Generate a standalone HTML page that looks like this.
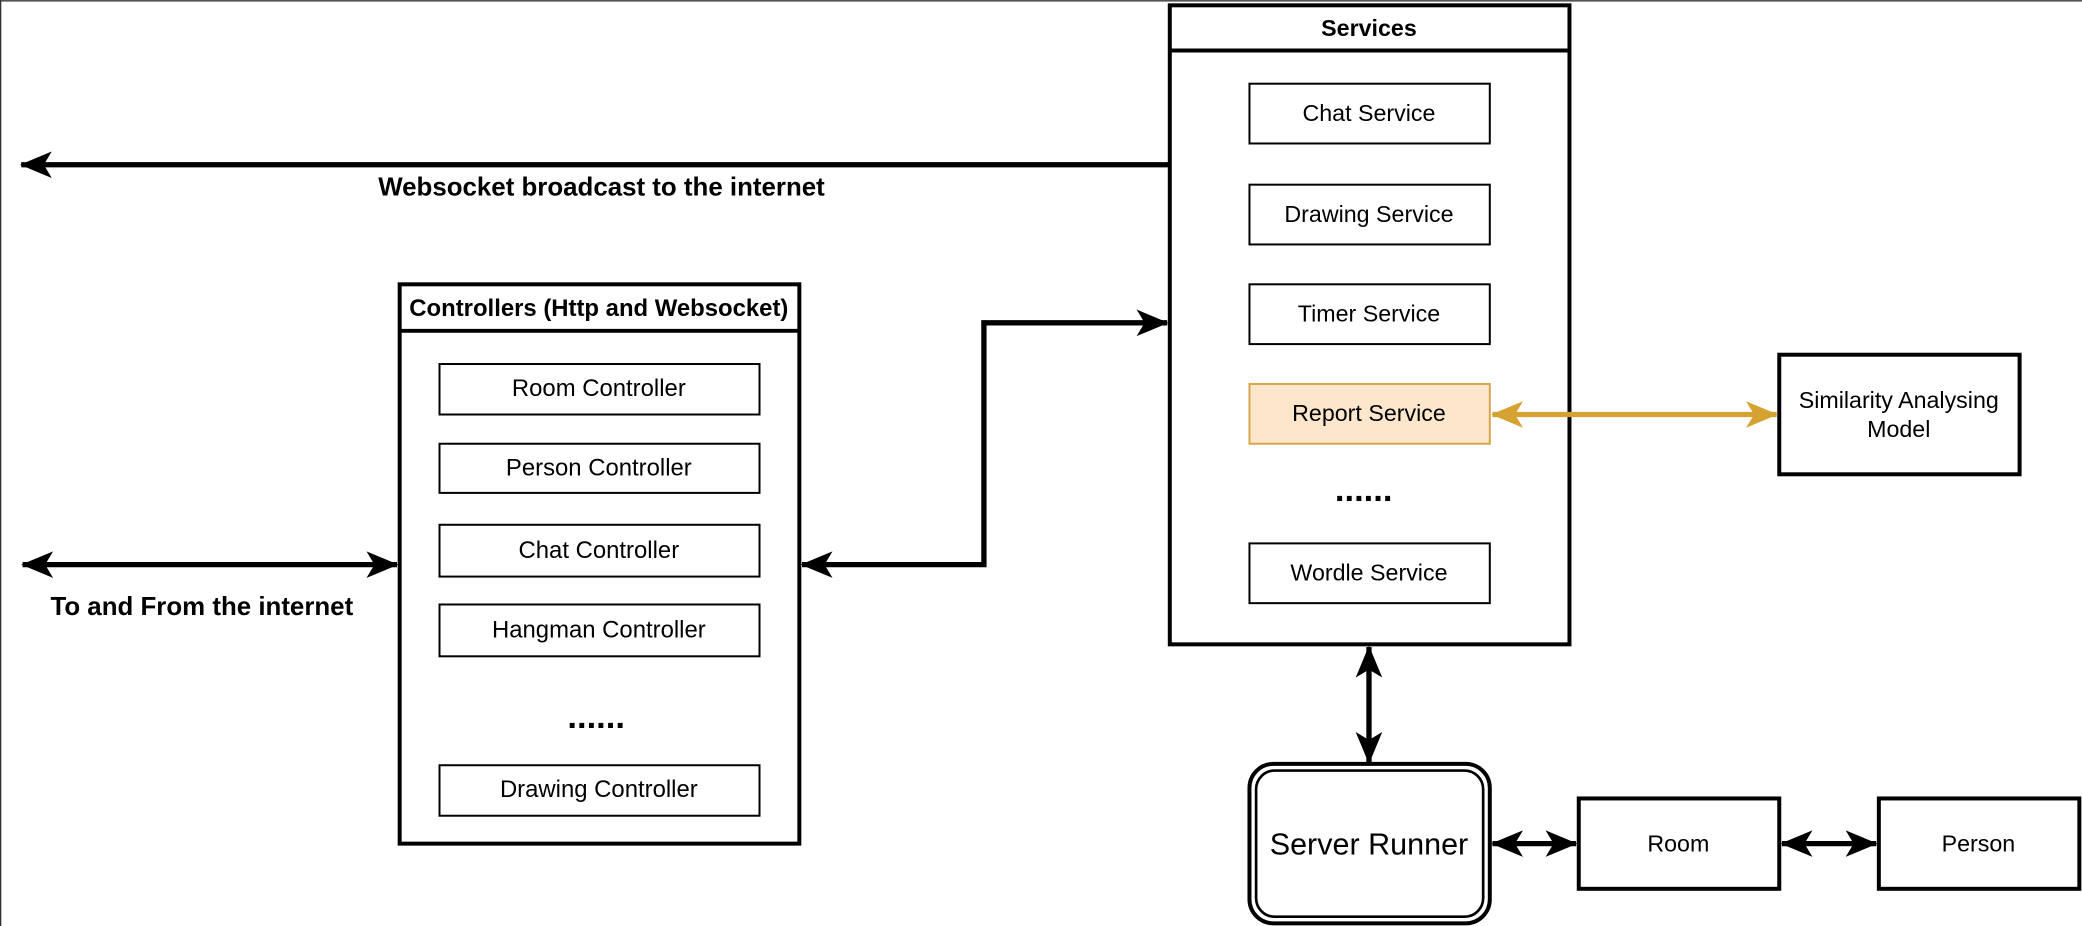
<!DOCTYPE html>
<html><head><meta charset="utf-8"><style>html,body{margin:0;padding:0;background:#fff}svg{display:block}</style></head>
<body>
<svg width="2082" height="926" viewBox="0 0 1568 697" preserveAspectRatio="none" xmlns="http://www.w3.org/2000/svg" font-family="Liberation Sans, Arial, sans-serif">
<defs>
<marker id="a" viewBox="0 0 24 20" refX="23" refY="10" markerWidth="24" markerHeight="20" markerUnits="userSpaceOnUse" orient="auto-start-reverse"><path d="M0,0 L24,10 L0,20 L6,10 z" fill="#000"/></marker>
<marker id="o" viewBox="0 0 24 20" refX="23" refY="10" markerWidth="24" markerHeight="20" markerUnits="userSpaceOnUse" orient="auto-start-reverse"><path d="M0,0 L24,10 L0,20 L6,10 z" fill="#d6a232"/></marker>
</defs>
<rect x="0" y="0" width="1568" height="697" fill="#fff"/>
<line x1="0" y1="0.5" x2="1568" y2="0.5" stroke="#555" stroke-width="1.5"/>
<line x1="0.5" y1="0" x2="0.5" y2="697" stroke="#333" stroke-width="1"/>

<!-- Services -->
<rect x="881" y="4" width="301" height="481" fill="#fff" stroke="#000" stroke-width="3"/>
<line x1="881" y1="38" x2="1182" y2="38" stroke="#000" stroke-width="3"/>
<text x="1031" y="27" text-anchor="middle" font-size="17.5" font-weight="bold">Services</text>
<g font-size="17.5" text-anchor="middle" stroke-width="1.5">
<rect x="941" y="63" width="181" height="45" fill="#fff" stroke="#000"/><text x="1031" y="91">Chat Service</text>
<rect x="941" y="139" width="181" height="45" fill="#fff" stroke="#000"/><text x="1031" y="167">Drawing Service</text>
<rect x="941" y="214" width="181" height="45" fill="#fff" stroke="#000"/><text x="1031" y="242">Timer Service</text>
<rect x="941" y="289" width="181" height="45" fill="#fce7cc" stroke="#d6a64a"/><text x="1031" y="317">Report Service</text>
<text x="1027" y="377" font-size="26" font-weight="bold">......</text>
<rect x="941" y="409" width="181" height="45" fill="#fff" stroke="#000"/><text x="1031" y="437">Wordle Service</text>
</g>

<!-- Similarity -->
<rect x="1340" y="267" width="181" height="90" fill="#fff" stroke="#000" stroke-width="3"/>
<text x="1430" y="307" text-anchor="middle" font-size="17.5">Similarity Analysing</text>
<text x="1430" y="329" text-anchor="middle" font-size="17.5">Model</text>
<line x1="1124" y1="312" x2="1338" y2="312" stroke="#d6a232" stroke-width="4" marker-start="url(#o)" marker-end="url(#o)"/>

<!-- Controllers -->
<rect x="301" y="214" width="301" height="421" fill="#fff" stroke="#000" stroke-width="3"/>
<line x1="301" y1="249" x2="602" y2="249" stroke="#000" stroke-width="3"/>
<text x="451" y="238" text-anchor="middle" font-size="18" font-weight="bold">Controllers (Http and Websocket)</text>
<g font-size="18" text-anchor="middle" stroke-width="1.5">
<rect x="331" y="274" width="241" height="38" fill="#fff" stroke="#000"/><text x="451" y="298">Room Controller</text>
<rect x="331" y="334" width="241" height="37" fill="#fff" stroke="#000"/><text x="451" y="358">Person Controller</text>
<rect x="331" y="395" width="241" height="39" fill="#fff" stroke="#000"/><text x="451" y="420">Chat Controller</text>
<rect x="331" y="455" width="241" height="39" fill="#fff" stroke="#000"/><text x="451" y="480">Hangman Controller</text>
<text x="449" y="548" font-size="26" font-weight="bold">......</text>
<rect x="331" y="576" width="241" height="38" fill="#fff" stroke="#000"/><text x="451" y="600">Drawing Controller</text>
</g>

<!-- arrows -->
<line x1="881" y1="124" x2="16" y2="124" stroke="#000" stroke-width="4" marker-end="url(#a)"/>
<text x="453" y="147" text-anchor="middle" font-size="19.5" font-weight="bold">Websocket broadcast to the internet</text>
<line x1="17" y1="425" x2="299" y2="425" stroke="#000" stroke-width="4" marker-start="url(#a)" marker-end="url(#a)"/>
<text x="152" y="463" text-anchor="middle" font-size="19.5" font-weight="bold">To and From the internet</text>
<path d="M604,425 L741,425 L741,243 L879,243" fill="none" stroke="#000" stroke-width="4" marker-start="url(#a)" marker-end="url(#a)"/>
<line x1="1031" y1="487" x2="1031" y2="574" stroke="#000" stroke-width="4" marker-start="url(#a)" marker-end="url(#a)"/>

<!-- Server runner -->
<rect x="941" y="575" width="181" height="120" rx="18" fill="#fff" stroke="#000" stroke-width="3"/>
<rect x="946" y="580" width="171" height="110" rx="14" fill="none" stroke="#000" stroke-width="2"/>
<text x="1031" y="643" text-anchor="middle" font-size="23">Server Runner</text>
<rect x="1189" y="601" width="151" height="68" fill="#fff" stroke="#000" stroke-width="3"/>
<text x="1264" y="641" text-anchor="middle" font-size="17.5">Room</text>
<rect x="1415" y="601" width="151" height="68" fill="#fff" stroke="#000" stroke-width="3"/>
<text x="1490" y="641" text-anchor="middle" font-size="17.5">Person</text>
<line x1="1124" y1="635" x2="1187" y2="635" stroke="#000" stroke-width="4" marker-start="url(#a)" marker-end="url(#a)"/>
<line x1="1342" y1="635" x2="1413" y2="635" stroke="#000" stroke-width="4" marker-start="url(#a)" marker-end="url(#a)"/>
</svg>
</body></html>
